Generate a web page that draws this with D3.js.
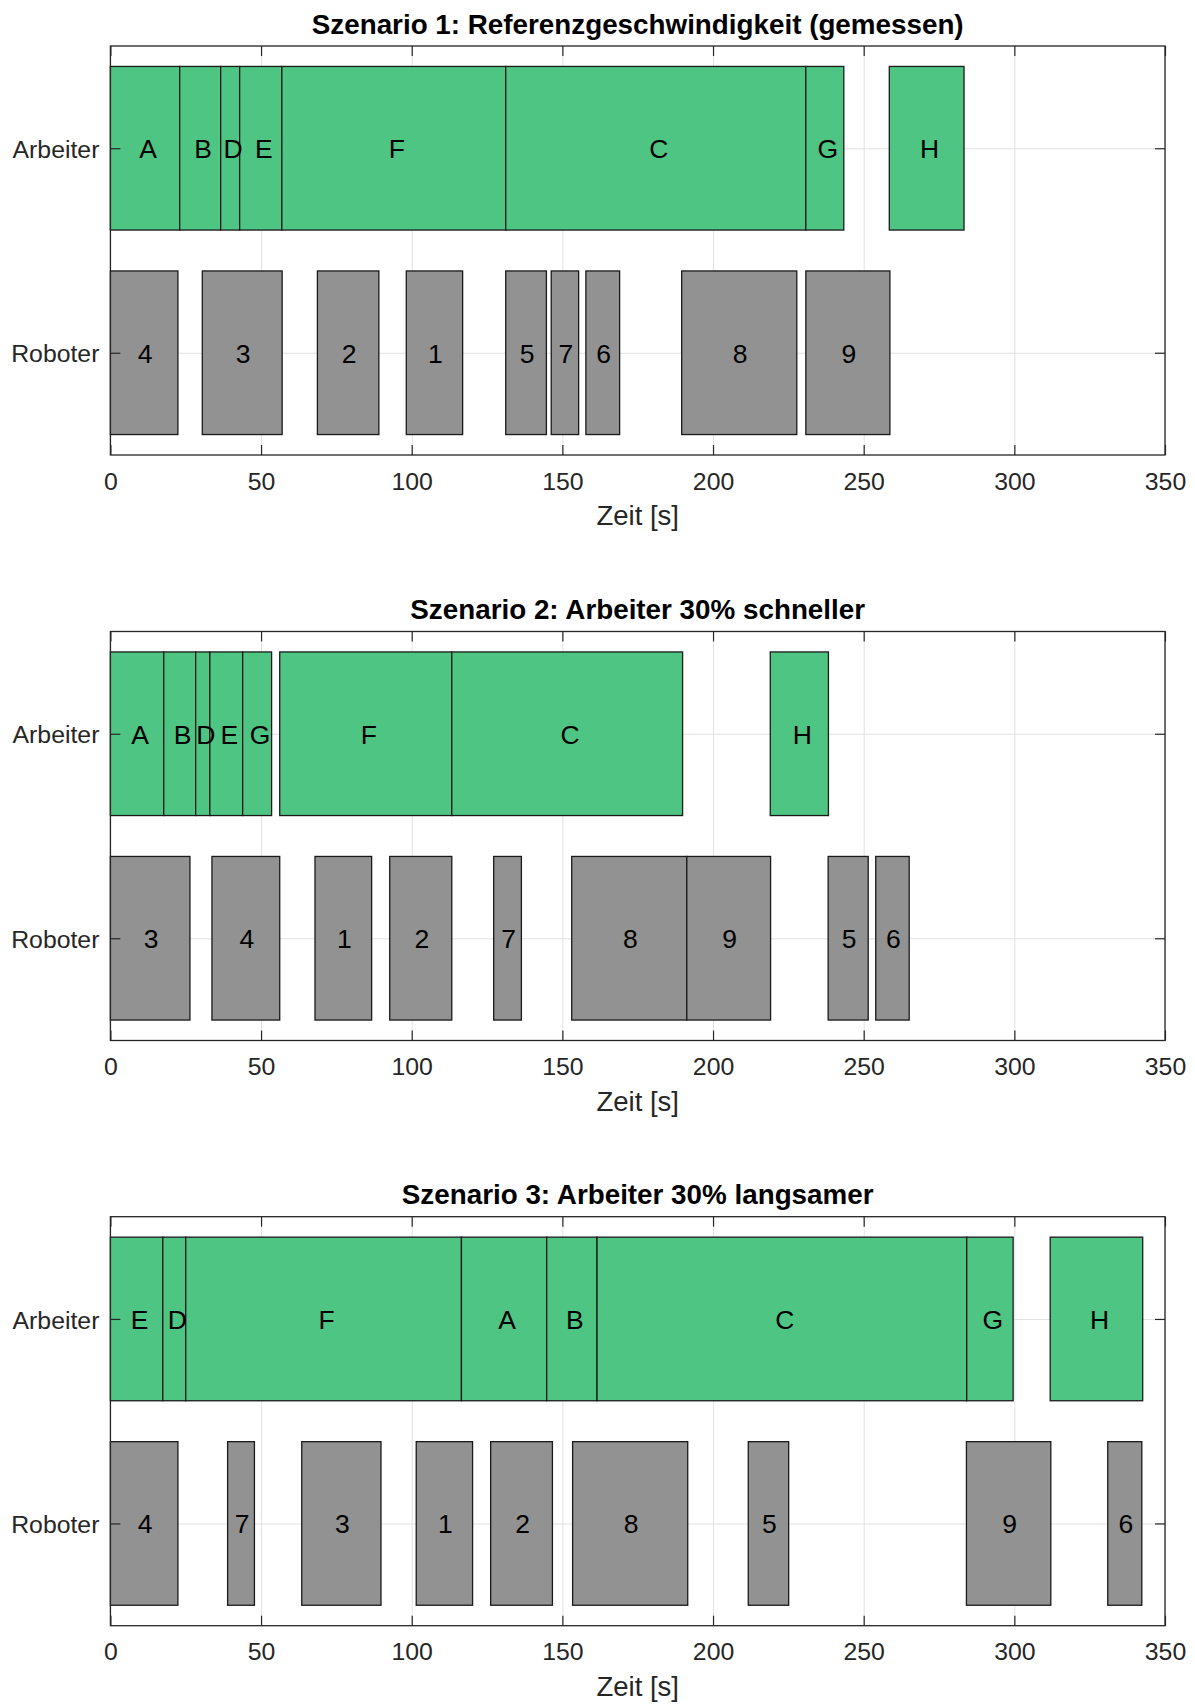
<!DOCTYPE html>
<html>
<head>
<meta charset="utf-8">
<script src="https://cdn.jsdelivr.net/npm/d3@7"></script>
<style>
  html, body { margin: 0; padding: 0; background: #fff; }
  svg { display: block; font-family: "Liberation Sans", Arial, Helvetica, sans-serif; }
</style>
</head>
<body>
<svg id="chart" width="1195" height="1704"></svg>
<script>
// Resource rows (y categories)
const resources = ["Arbeiter", "Roboter"];
const xTicks = [0, 50, 100, 150, 200, 250, 300, 350];

const titles = [
  "Szenario 1: Referenzgeschwindigkeit (gemessen)",
  "Szenario 2: Arbeiter 30% schneller",
  "Szenario 3: Arbeiter 30% langsamer"
];

// Scenario 1 – worker tasks
const s1WorkerTask  = ["A", "B", "D", "E", "F", "C", "G", "H"];
const s1WorkerStart = [0, 23.0, 36.6, 42.9, 56.9, 131.2, 230.8, 258.5];
const s1WorkerEnd   = [23.0, 36.6, 42.9, 56.9, 131.2, 230.8, 243.4, 283.3];
// Scenario 1 – robot tasks
const s1RobotTask  = ["4", "3", "2", "1", "5", "7", "6", "8", "9"];
const s1RobotStart = [0, 30.5, 68.7, 98.2, 131.2, 146.3, 157.8, 189.6, 230.8];
const s1RobotEnd   = [22.4, 57.0, 89.1, 116.9, 144.7, 155.4, 169.0, 227.8, 258.7];

// Scenario 2 – worker tasks
const s2WorkerTask  = ["A", "B", "D", "E", "G", "F", "C", "H"];
const s2WorkerStart = [0, 17.7, 28.3, 33.0, 43.9, 56.2, 113.3, 219.0];
const s2WorkerEnd   = [17.7, 28.3, 33.0, 43.9, 53.5, 113.3, 189.9, 238.3];
// Scenario 2 – robot tasks
const s2RobotTask  = ["3", "4", "1", "2", "7", "8", "9", "5", "6"];
const s2RobotStart = [0, 33.7, 67.9, 92.7, 127.2, 153.1, 191.3, 238.2, 254.0];
const s2RobotEnd   = [26.4, 56.2, 86.7, 113.3, 136.4, 191.3, 219.1, 251.5, 265.1];

// Scenario 3 – worker tasks
const s3WorkerTask  = ["E", "D", "F", "A", "B", "C", "G", "H"];
const s3WorkerStart = [0, 17.4, 25.0, 116.5, 144.8, 161.5, 284.2, 311.9];
const s3WorkerEnd   = [17.4, 25.0, 116.5, 144.8, 161.5, 284.2, 299.6, 342.6];
// Scenario 3 – robot tasks
const s3RobotTask  = ["4", "7", "3", "1", "2", "8", "5", "9", "6"];
const s3RobotStart = [0, 38.9, 63.5, 101.5, 126.2, 153.4, 211.7, 284.1, 331.0];
const s3RobotEnd   = [22.4, 47.8, 89.8, 120.2, 146.7, 191.6, 225.1, 312.1, 342.3];

const scenarios = [
  { worker: [s1WorkerTask, s1WorkerStart, s1WorkerEnd], robot: [s1RobotTask, s1RobotStart, s1RobotEnd] },
  { worker: [s2WorkerTask, s2WorkerStart, s2WorkerEnd], robot: [s2RobotTask, s2RobotStart, s2RobotEnd] },
  { worker: [s3WorkerTask, s3WorkerStart, s3WorkerEnd], robot: [s3RobotTask, s3RobotStart, s3RobotEnd] }
];

// Layout
const left = 110.4, right = 1165;
const plotH = 409;
const tops = [46, 631.5, 1216.7];
const colors = { Arbeiter: "#4fc583", Roboter: "#929292" };
const labelShift = { Arbeiter: 3, Roboter: 1 };
const axisColor = "#262626";
const tickFont = 24.8;

const svg = d3.select("#chart");
const x = d3.scaleLinear().domain([0, 350]).range([left, right]);

scenarios.forEach((sc, i) => {
  const top = tops[i];
  const y = d3.scaleLinear().domain([0.5, 2.5]).range([top, top + plotH]);
  const g = svg.append("g");

  // grid
  g.append("g")
    .attr("transform", `translate(0,${top + plotH})`)
    .call(d3.axisBottom(x).tickValues(xTicks).tickSize(-plotH).tickFormat(""))
    .call(a => a.select(".domain").remove())
    .call(a => a.selectAll("line").attr("stroke", "#e2e2e2").attr("stroke-width", 1));
  g.append("g")
    .attr("transform", `translate(${left},0)`)
    .call(d3.axisLeft(y).tickValues([1, 2]).tickSize(-(right - left)).tickFormat(""))
    .call(a => a.select(".domain").remove())
    .call(a => a.selectAll("line").attr("stroke", "#e2e2e2").attr("stroke-width", 1));

  // task bars
  const rows = [["Arbeiter", 1, sc.worker], ["Roboter", 2, sc.robot]];
  rows.forEach(([name, row, [labels, starts, ends]]) => {
    const tasks = labels.map((l, k) => ({ label: l, start: starts[k], end: ends[k] }));
    const bg = g.append("g");
    bg.selectAll("rect").data(tasks).join("rect")
      .attr("x", d => x(d.start))
      .attr("width", d => x(d.end) - x(d.start))
      .attr("y", y(row - 0.4))
      .attr("height", y(row + 0.4) - y(row - 0.4))
      .attr("fill", colors[name])
      .attr("stroke", "#1a1a1a")
      .attr("stroke-width", 1.3);
    bg.selectAll("text").data(tasks).join("text")
      .attr("x", d => x((d.start + d.end) / 2))
      .attr("y", y(row))
      .attr("dx", labelShift[name])
      .attr("dy", "0.37em")
      .attr("text-anchor", "middle")
      .attr("font-size", 26.5)
      .attr("fill", "#000")
      .text(d => d.label);
  });

  // axes with inward ticks on all sides
  const tickLen = 10;
  const bottom = g.append("g")
    .attr("transform", `translate(0,${top + plotH})`)
    .call(d3.axisBottom(x).tickValues(xTicks).tickSizeInner(-tickLen).tickSizeOuter(0).tickPadding(17));
  bottom.selectAll("text").attr("font-size", tickFont).attr("fill", axisColor).attr("font-family", null);
  g.append("g")
    .attr("transform", `translate(0,${top})`)
    .call(d3.axisTop(x).tickValues(xTicks).tickSizeInner(-tickLen).tickSizeOuter(0).tickFormat(""));
  const leftAx = g.append("g")
    .attr("transform", `translate(${left},0)`)
    .call(d3.axisLeft(y).tickValues([1, 2]).tickFormat(d => resources[d - 1])
      .tickSizeInner(-tickLen).tickSizeOuter(0).tickPadding(11));
  leftAx.selectAll("text").attr("font-size", tickFont).attr("fill", axisColor)
    .attr("dy", "0.37em").attr("font-family", null);
  g.append("g")
    .attr("transform", `translate(${right},0)`)
    .call(d3.axisRight(y).tickValues([1, 2]).tickSizeInner(-tickLen).tickSizeOuter(0).tickFormat(""));
  g.selectAll(".domain").attr("stroke", "none");
  g.selectAll(".tick line").filter(function () { return this.getAttribute("stroke") === "currentColor"; })
    .attr("stroke", axisColor).attr("stroke-width", 1.2);

  // axes box
  g.append("rect")
    .attr("x", left).attr("y", top)
    .attr("width", right - left).attr("height", plotH)
    .attr("fill", "none").attr("stroke", axisColor).attr("stroke-width", 1.3);

  // title and x label
  g.append("text")
    .attr("x", (left + right) / 2).attr("y", top - 12.5)
    .attr("text-anchor", "middle")
    .attr("font-size", 27.8).attr("font-weight", "bold").attr("fill", "#000")
    .text(titles[i]);
  g.append("text")
    .attr("x", (left + right) / 2).attr("y", top + plotH + 70)
    .attr("text-anchor", "middle")
    .attr("font-size", 27.5).attr("fill", axisColor)
    .text("Zeit [s]");
});
</script>
</body>
</html>
